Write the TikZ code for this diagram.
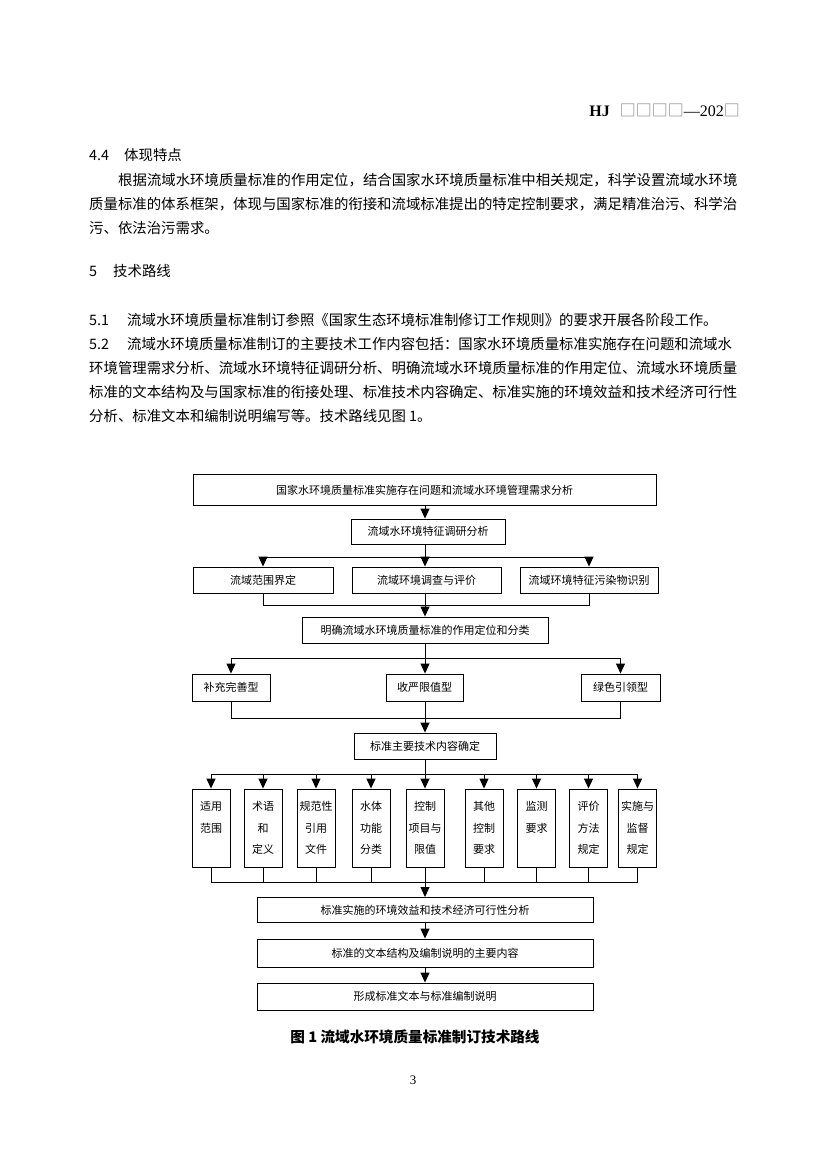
\documentclass[tikz,border=0pt]{standalone}
\usepackage{fontspec}
\setmainfont{Liberation Serif}
\newfontfamily\cjk{Noto Sans CJK SC}
\usetikzlibrary{arrows.meta}
\newcommand\bodyf{\cjk\fontsize{14.4}{16}\selectfont}
\newcommand\dgf{\cjk\fontsize{11}{13}\selectfont}
\newcommand\rowf{\cjk\fontsize{11}{21.5}\selectfont}
\begin{document}
\begin{tikzpicture}[x=1pt,y=-1pt,
  box/.style={draw,line width=0.9pt,inner sep=0pt,align=center,font=\dgf},
  vbox/.style={draw,line width=0.9pt,inner sep=0pt,align=center,font=\rowf,minimum width=38pt,minimum height=78pt},
  arr/.style={line width=0.9pt,-{Triangle[width=9pt,length=10pt]}},
  ln/.style={line width=0.9pt},
  txt/.style={inner sep=0pt,anchor=west,font=\bodyf}]
\useasboundingbox (0,0) rectangle (826,1169);
\fill[white] (0,0) rectangle (826,1169);
% header
\node[anchor=east,inner sep=0pt] (hdr) at (740,110) {\fontsize{16}{18}\selectfont\textbf{HJ}\hspace{10pt}{\color{gray}\cjk □□□□}—202{\color{gray}\cjk □}};
% section 4.4
\node[txt] (s44n) at (89,155) {4.4};
\node[txt] (s44t) at (124,155) {体现特点};
\node[txt] (p1) at (118,180) {根据流域水环境质量标准的作用定位，结合国家水环境质量标准中相关规定，科学设置流域水环境};
\node[txt] (p2) at (89,204) {质量标准的体系框架，体现与国家标准的衔接和流域标准提出的特定控制要求，满足精准治污、科学治};
\node[txt] (p3) at (89,228) {污、依法治污需求。};
% section 5
\node[txt] (s5n) at (89,271) {5};
\node[txt] (s5t) at (113,271) {技术路线};
\node[txt] (s51n) at (89,320) {5.1};
\node[txt] (s51t) at (127,320) {流域水环境质量标准制订参照《国家生态环境标准制修订工作规则》的要求开展各阶段工作。};
\node[txt] (s52n) at (89,344) {5.2};
\node[txt] (s52t) at (127,344) {流域水环境质量标准制订的主要技术工作内容包括：国家水环境质量标准实施存在问题和流域水};
\node[txt] (q2) at (89,368) {环境管理需求分析、流域水环境特征调研分析、明确流域水环境质量标准的作用定位、流域水环境质量};
\node[txt] (q3) at (89,392) {标准的文本结构及与国家标准的衔接处理、标准技术内容确定、标准实施的环境效益和技术经济可行性};
\node[txt] (q4) at (89,416) {分析、标准文本和编制说明编写等。技术路线见图 1。};
% diagram boxes
\node[box,minimum width=463pt,minimum height=31pt] (top) at (424.5,490) {国家水环境质量标准实施存在问题和流域水环境管理需求分析};
\node[box,minimum width=154pt,minimum height=25pt] (b2) at (428,531.5) {流域水环境特征调研分析};
\node[box,minimum width=140pt,minimum height=26pt] (r3a) at (263,580) {流域范围界定};
\node[box,minimum width=149pt,minimum height=26pt] (r3b) at (426.5,580) {流域环境调查与评价};
\node[box,minimum width=138pt,minimum height=26pt] (r3c) at (589,580) {流域环境特征污染物识别};
\node[box,minimum width=246pt,minimum height=26pt] (b4) at (425,630) {明确流域水环境质量标准的作用定位和分类};
\node[box,minimum width=78pt,minimum height=27pt] (r5a) at (231,687.5) {补充完善型};
\node[box,minimum width=77pt,minimum height=27pt] (r5b) at (424.5,687.5) {收严限值型};
\node[box,minimum width=79pt,minimum height=27pt] (r5c) at (620.5,687.5) {绿色引领型};
\node[box,minimum width=142pt,minimum height=26pt] (b6) at (425,746) {标准主要技术内容确定};
\node[vbox] (r71) at (211,828) {适用\\范围\\\phantom{范}};
\node[vbox] (r72) at (263,828) {术语\\和\\定义};
\node[vbox] (r73) at (316,828) {规范性\\引用\\文件};
\node[vbox] (r74) at (371,828) {水体\\功能\\分类};
\node[vbox] (r75) at (425,828) {控制\\项目与\\限值};
\node[vbox] (r76) at (484,828) {其他\\控制\\要求};
\node[vbox] (r77) at (536.5,828) {监测\\要求\\\phantom{要}};
\node[vbox] (r78) at (588.5,828) {评价\\方法\\规定};
\node[vbox] (r79) at (637.5,828) {实施与\\监督\\规定};
\node[box,minimum width=336pt,minimum height=25pt] (f1) at (425,910) {标准实施的环境效益和技术经济可行性分析};
\node[box,minimum width=336pt,minimum height=28pt] (f2) at (425,953) {标准的文本结构及编制说明的主要内容};
\node[box,minimum width=336pt,minimum height=27pt] (f3) at (425,996.5) {形成标准文本与标准编制说明};
% junctions
\coordinate (j1) at (425,557);
\coordinate (j2) at (425,605);
\coordinate (j3) at (425,658);
\coordinate (j4) at (425,718);
\coordinate (j5) at (425,774);
\coordinate (j6) at (425,882);
% connectors
\draw[arr] (j1 |- top.south) -- (j1 |- b2.north);
\draw[ln] (j1 |- b2.south) -- (j1);
\draw[arr] (j1) -| (r3a.north);
\draw[arr] (j1) -| (r3c.north);
\draw[arr] (j1) -- (j1 |- r3b.north);
\draw[ln] (r3a.south) |- (j2);
\draw[ln] (r3c.south) |- (j2);
\draw[ln] (j1 |- r3b.south) -- (j2);
\draw[arr] (j2) -- (b4.north);
\draw[ln] (b4.south) -- (j3);
\draw[arr] (j3) -| (r5a.north);
\draw[arr] (j3) -| (r5c.north);
\draw[arr] (j3) -- (j3 |- r5b.north);
\draw[ln] (r5a.south) |- (j4);
\draw[ln] (r5c.south) |- (j4);
\draw[ln] (j3 |- r5b.south) -- (j4);
\draw[arr] (j4) -- (b6.north);
\draw[ln] (b6.south) -- (j5);
\foreach \k in {1,2,3,4,6,7,8,9}{
  \draw[arr] (j5) -| (r7\k.north);
  \draw[ln] (r7\k.south) |- (j6);
}
\draw[arr] (j5) -- (r75.north);
\draw[ln] (r75.south) -- (j6);
\draw[arr] (j6) -- (f1.north);
\draw[arr] (f1.south) -- (f2.north);
\draw[arr] (f2.south) -- (f3.north);
% caption and page number
\node[inner sep=0pt,font={\cjk\bfseries\fontsize{14.6}{16}\selectfont}] (cap) at (415,1037) {图 1\ 流域水环境质量标准制订技术路线};
\node[inner sep=0pt,font={\fontsize{13}{15}\selectfont}] (pg) at (413,1080) {3};
\end{tikzpicture}
\end{document}
